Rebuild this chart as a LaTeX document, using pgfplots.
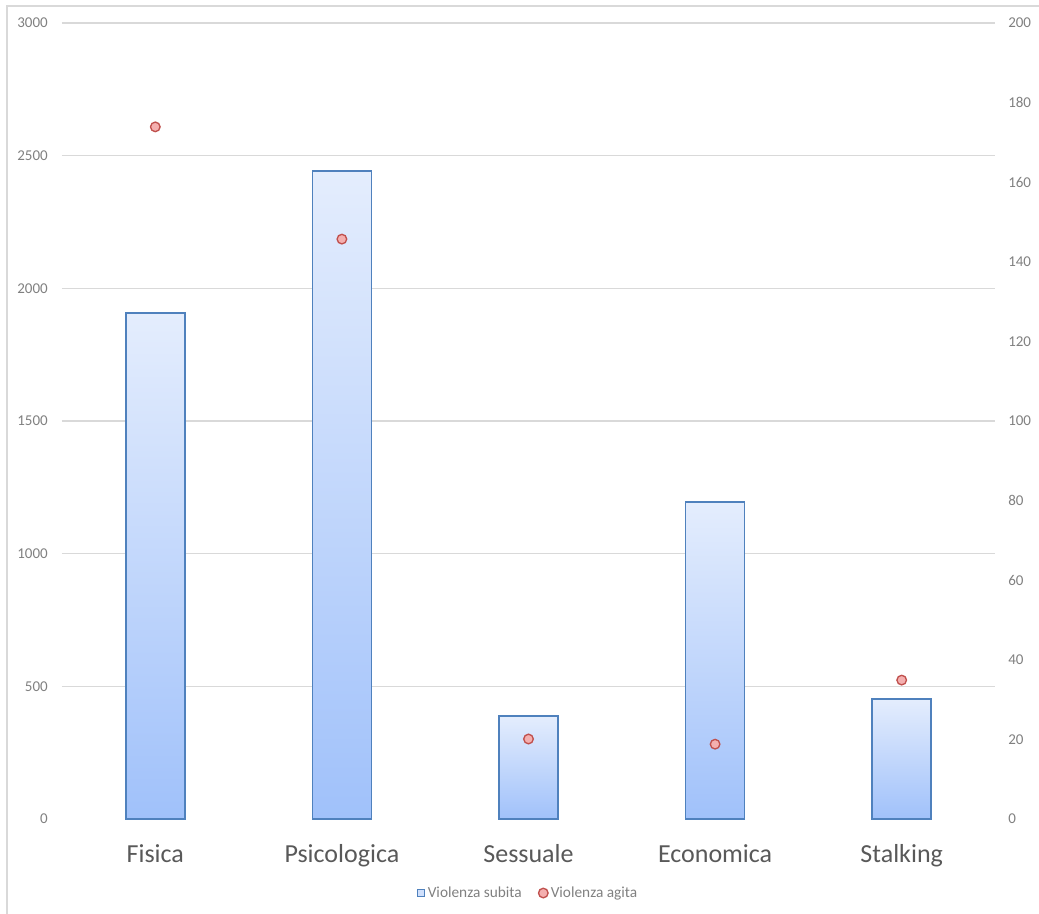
\documentclass[border=0pt]{standalone}
\usepackage{pgfplots}
\pgfplotsset{compat=1.18}
\usepackage{fontspec}
\setmainfont{Carlito}
\newcommand\px{0.75pt}
\definecolor{barblue}{HTML}{4F81BD}
\definecolor{bartop}{HTML}{E4EDFD}
\definecolor{barbot}{HTML}{A0C1FA}
\definecolor{dotedge}{HTML}{C0504D}
\definecolor{dotfill}{HTML}{F4AFAF}
\definecolor{gridgray}{HTML}{D9D9D9}
\definecolor{ticktext}{HTML}{808080}
\definecolor{cattext}{HTML}{595959}
\begin{document}
\begin{tikzpicture}
\pgfplotsset{
  common/.style={
    scale only axis,
    width=933*\px, height=796*\px,
    xmin=-0.5, xmax=4.5,
    axis line style={draw=none},
    major tick style={draw=none},
    minor tick style={draw=none},
    /pgf/number format/assume math mode=true,
    /pgf/number format/1000 sep={},
    clip=false,
  },
  barsty/.style={ybar, bar width=0.317, draw=barblue, line width=1.2pt, top color=bartop, bottom color=barbot, bar shift=0pt},
}
\begin{axis}[common,
  ymin=0, ymax=3000,
  ytick={500,1000,...,3000},
  extra y ticks={0},
  extra y tick style={grid=none},
  ymajorgrids, grid style={gridgray, line width=1pt},
  yticklabel style={font=\fontsize{11.25}{12}\selectfont, text=ticktext, anchor=east, inner sep=0pt, xshift=-14*\px},
  xtick={0,1,2,3,4},
  xticklabels={Fisica,Psicologica,Sessuale,Economica,Stalking},
  xticklabel style={font=\fontsize{19.5}{20}\selectfont, text=cattext, anchor=base, inner sep=0pt, yshift=-43*\px},
]
\addplot[barsty] coordinates {(0,1907)};
\addplot[barsty] coordinates {(1,2442)};
\addplot[barsty] coordinates {(2,388)};
\addplot[barsty] coordinates {(3,1195)};
\addplot[barsty] coordinates {(4,452)};
\end{axis}
\begin{axis}[common,
  ymin=0, ymax=200,
  ytick={0,20,...,200},
  axis y line*=right,
  xtick=\empty,
  yticklabel pos=right,
  yticklabel style={font=\fontsize{11.25}{12}\selectfont, text=ticktext, anchor=west, inner sep=0pt, xshift=13*\px},
  legend columns=2,
  legend style={at={(0.5,-0.093)}, anchor=center, draw=none, fill=none,
    font=\fontsize{11.5}{12}\selectfont, text=ticktext,
    /tikz/every even column/.append style={column sep=14*\px}},
]
\addlegendimage{legend image code/.code={\draw[barblue, line width=0.8pt, fill=bartop!70!barbot] (0,-3.5*\px) rectangle (7*\px,3.5*\px);}}
\addlegendentry{Violenza subita}
\addplot[only marks, mark=*, mark size=3.6pt, mark options={draw=dotedge, fill=dotfill, line width=1pt}]
  coordinates {(0,173.9) (1,145.7) (2,20.1) (3,18.8) (4,34.9)};
\addlegendentry{Violenza agita}
\end{axis}
\draw[gridgray, line width=1.5pt] (-55*\px,-95*\px) -- (-55*\px,813*\px) -- (977*\px,813*\px);
\pgfresetboundingbox
\path (-62*\px,-95*\px) rectangle (977*\px,819*\px);
\end{tikzpicture}
\end{document}
